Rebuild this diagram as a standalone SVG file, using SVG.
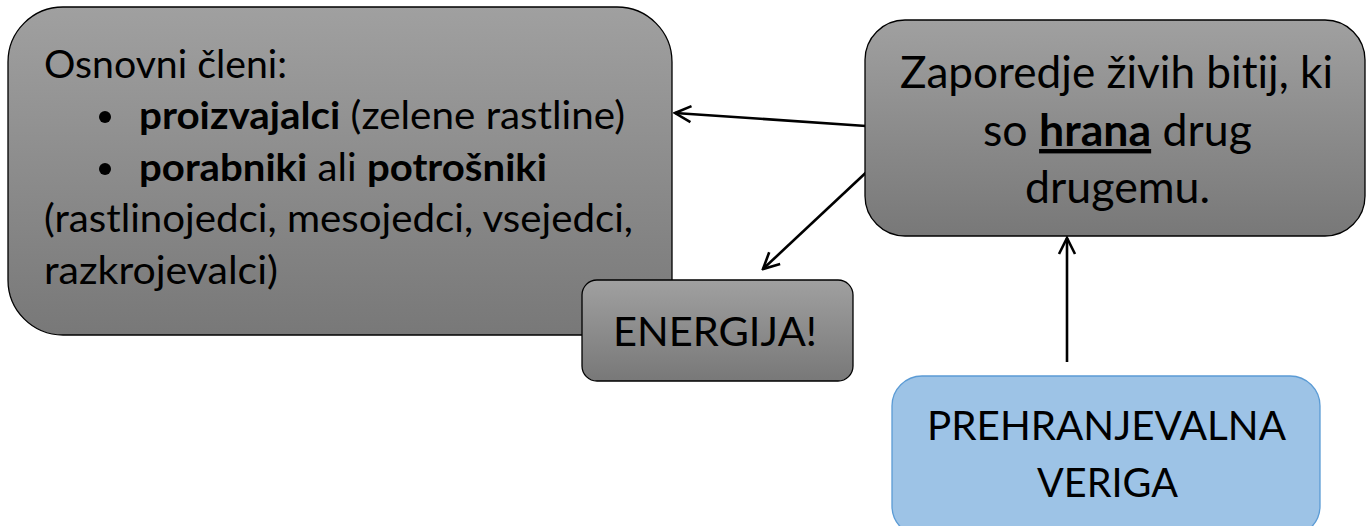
<svg xmlns="http://www.w3.org/2000/svg" width="1366" height="526" viewBox="0 0 1366 526">
<defs>
<linearGradient id="gray" x1="0" y1="0" x2="0" y2="1">
<stop offset="0" stop-color="#a0a0a0"/>
<stop offset="1" stop-color="#787878"/>
</linearGradient>
<marker id="arr" viewBox="0 0 20 20" refX="18" refY="10" markerWidth="20" markerHeight="20" markerUnits="userSpaceOnUse" orient="auto">
<path d="M2,2 L18,10 L2,18" fill="none" stroke="#000" stroke-width="2.6"/>
</marker>
<style>
.box{fill:url(#gray);stroke:#000;stroke-width:1.3}
.blue{fill:#9dc3e6;stroke:#5b9bd5;stroke-width:1.3}
.t{font-family:Lato,"Open Sans","Liberation Sans",sans-serif;fill:#000;font-variant-ligatures:none;font-feature-settings:"liga" 0,"dlig" 0}
.b{font-weight:bold}
.conn{stroke:#000;stroke-width:2.6;fill:none;marker-end:url(#arr)}
</style>
</defs>
<g id="connectors">
<line class="conn" x1="866" y1="126" x2="675" y2="113"/>
<line class="conn" x1="873" y1="166" x2="763" y2="269"/>
<line class="conn" x1="1067" y1="362" x2="1067" y2="238"/>
</g>
<g id="node-clani">
<rect class="box" x="8" y="7" width="664" height="328" rx="55" ry="55"/>
<text class="t" font-size="38" x="44" y="78" textLength="243" lengthAdjust="spacingAndGlyphs">Osnovni členi:</text>
<circle cx="105" cy="117" r="6" fill="#000"/>
<text class="t" font-size="38" x="139" y="129" textLength="486" lengthAdjust="spacingAndGlyphs"><tspan class="b">proizvajalci</tspan> (zelene rastline)</text>
<circle cx="105" cy="169" r="6" fill="#000"/>
<text class="t" font-size="38" x="139" y="181" textLength="408" lengthAdjust="spacingAndGlyphs"><tspan class="b">porabniki</tspan> ali <tspan class="b">potrošniki</tspan></text>
<text class="t" font-size="38" x="44" y="232" textLength="589" lengthAdjust="spacingAndGlyphs">(rastlinojedci, mesojedci, vsejedci,</text>
<text class="t" font-size="38" x="44" y="284" textLength="234" lengthAdjust="spacingAndGlyphs">razkrojevalci)</text>
</g>
<g id="node-energija">
<rect class="box" x="582" y="280" width="271" height="101" rx="15" ry="15"/>
<text class="t" font-size="41" x="613" y="346" textLength="204" lengthAdjust="spacingAndGlyphs">ENERGIJA!</text>
</g>
<g id="node-zaporedje">
<rect class="box" x="865" y="20" width="500" height="216" rx="40" ry="40"/>
<text class="t" font-size="44" x="900" y="88" textLength="433" lengthAdjust="spacingAndGlyphs">Zaporedje živih bitij, ki</text>
<text class="t" font-size="44" x="983" y="146" textLength="269" lengthAdjust="spacingAndGlyphs">so <tspan class="b" text-decoration="underline">hrana</tspan> drug</text>
<text class="t" font-size="44" x="1025" y="203" textLength="185" lengthAdjust="spacingAndGlyphs">drugemu.</text>
</g>
<g id="node-veriga">
<rect class="blue" x="892" y="376" width="428" height="160" rx="30" ry="30"/>
<text class="t" font-size="40" x="927" y="440" textLength="359" lengthAdjust="spacingAndGlyphs">PREHRANJEVALNA</text>
<text class="t" font-size="40" x="1037" y="497" textLength="141" lengthAdjust="spacingAndGlyphs">VERIGA</text>
</g>
</svg>
